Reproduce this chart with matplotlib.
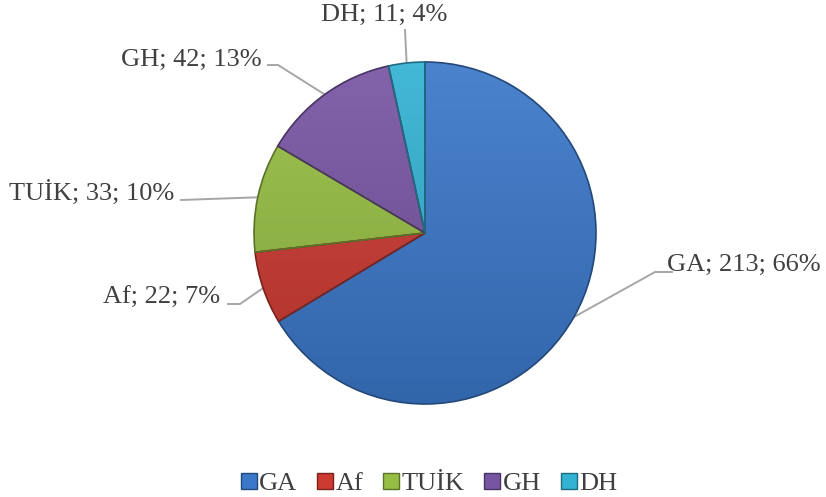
import numpy as np
import matplotlib
matplotlib.use("Agg")
import matplotlib.pyplot as plt
from matplotlib.colors import LinearSegmentedColormap, to_rgb
from matplotlib.lines import Line2D

# data
categories = ["GA", "Af", "TUİK", "GH", "DH"]
values = [213, 22, 33, 42, 11]
percents = ["66%", "7%", "10%", "13%", "4%"]
colors = ["#3B78C9", "#CC3A32", "#97BE44", "#7855A3", "#33B2D3"]

plt.rcParams['font.family'] = ['Liberation Serif', 'DejaVu Serif']
text_color = "#404040"

W, H = 826, 497
fig = plt.figure(figsize=(W / 100, H / 100), dpi=100)
ax = fig.add_axes([0, 0, 1, 1])

cx, cy, r = 425, H - 233, 171


def shade(c, f):
    rgb = np.array(to_rgb(c))
    if f > 0:
        return tuple(rgb + (1 - rgb) * f)
    return tuple(rgb * (1 + f))


wedges, _ = ax.pie(values, colors=colors, startangle=90, counterclock=False,
                   center=(cx, cy), radius=r,
                   wedgeprops=dict(linewidth=1.2, edgecolor="#5a5a5a"))

# vertical gradient on each slice: lighter at top, darker at bottom
grad = np.linspace(0, 1, 256).reshape(-1, 1)
for w, c in zip(wedges, colors):
    cmap = LinearSegmentedColormap.from_list("g", [shade(c, -0.15), shade(c, 0.08)])
    im = ax.imshow(grad, cmap=cmap, extent=(cx - r, cx + r, cy - r, cy + r),
                   origin="lower", aspect="auto", zorder=w.get_zorder() + 0.1)
    im.set_clip_path(w)
    w.set_edgecolor(shade(c, -0.4))
    w.set_zorder(w.get_zorder() + 0.2)
    w.set_facecolor("none")

# label positions (screen px) and leader elbows
label_pos = [(667, 265, "left"), (220, 298, "right"), (174, 192, "right"),
             (262, 60, "right"), (384, 15, "center")]
elbows = [[(672, 272), (655, 272)], [(228, 304), (240, 304)], [(181, 200)],
          [(268, 65), (278, 65)], [(405, 30)]]

total = sum(values)
start = 90.0
for i, v in enumerate(values):
    span = v / total * 360
    mid = np.deg2rad(start - span / 2)
    start -= span
    ex, ey = cx + r * np.cos(mid), cy + r * np.sin(mid)
    pts = [(x, H - y) for x, y in elbows[i]] + [(ex, ey)]
    xs, ys = zip(*pts)
    ax.plot(xs, ys, color="#A6A6A6", lw=1.4, zorder=1)
    lx, ly, ha = label_pos[i]
    ax.text(lx, H - ly, f"{categories[i]}; {v}; {percents[i]}", ha=ha, va="center",
            fontsize=19, color=text_color)

handles = [Line2D([], [], marker="s", linestyle="none", markersize=11,
                  markerfacecolor=c, markeredgecolor=shade(c, -0.4))
           for c in colors]
ax.legend(handles, categories, loc="center", bbox_to_anchor=(429 / W, 1 - 483 / H),
          ncol=5, frameon=False, fontsize=19, labelcolor=text_color,
          handletextpad=0.1, columnspacing=0.75, handlelength=0.6,
          borderaxespad=0)

ax.set_xlim(0, W)
ax.set_ylim(0, H)
ax.set_aspect("auto")
ax.axis("off")

fig.savefig("out.png", dpi=100)
